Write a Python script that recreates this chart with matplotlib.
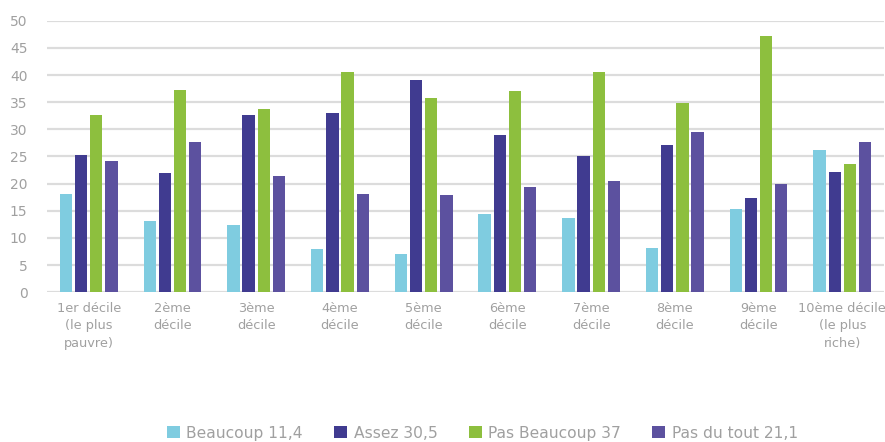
import matplotlib
matplotlib.use('Agg')
from matplotlib import pyplot as plt
import numpy as np

plt.rcParams['font.family'] = ['Liberation Sans Narrow', 'DejaVu Sans']

# Données
deciles = ['1er décile\n(le plus\npauvre)', '2ème\ndécile', '3ème\ndécile', '4ème\ndécile',
           '5ème\ndécile', '6ème\ndécile', '7ème\ndécile', '8ème\ndécile',
           '9ème\ndécile', '10ème décile\n(le plus\nriche)']
beaucoup = [18.0, 13.1, 12.3, 8.0, 7.1, 14.4, 13.7, 8.2, 15.3, 26.2]
assez = [25.2, 21.9, 32.6, 33.1, 39.1, 28.9, 25.0, 27.1, 17.3, 22.2]
pas_beaucoup = [32.7, 37.2, 33.7, 40.6, 35.8, 37.1, 40.6, 34.9, 47.2, 23.7]
pas_du_tout = [24.1, 27.7, 21.4, 18.1, 17.9, 19.3, 20.5, 29.6, 20.0, 27.7]
series = [('Beaucoup 11,4', beaucoup, '#7fcce0'),
          ('Assez 30,5', assez, '#403b90'),
          ('Pas Beaucoup 37', pas_beaucoup, '#8dbf3e'),
          ('Pas du tout 21,1', pas_du_tout, '#5c519f')]

grey = '#a0a0a0'
fig = plt.figure(figsize=(8.85, 4.42), dpi=100)
ax = fig.add_axes([0.053, 0.339, 0.946, 0.614])

x = np.arange(len(deciles))
w, step = 0.147, 0.181
for i, (name, vals, col) in enumerate(series):
    ax.bar(x + (i - 1.5) * step, vals, w, color=col, label=name, zorder=3)

ax.set_xlim(-0.5, 9.5)
ax.set_ylim(0, 50)
ax.set_yticks(range(0, 51, 5))
ax.yaxis.grid(True, color='#dcdcdc', linewidth=1.6, zorder=0)
ax.set_xticks(x)
ax.set_xticklabels(deciles, color=grey, fontsize=9.3, linespacing=1.45)
ax.tick_params(axis='y', colors=grey, labelsize=10, length=0, pad=14)
ax.tick_params(axis='x', length=0, pad=7)
for s in ax.spines.values():
    s.set_visible(False)

leg = fig.legend(loc='center', bbox_to_anchor=(0.545, 0.02), ncol=4, frameon=False,
                 fontsize=11.2, handlelength=0.85, handleheight=0.85, handletextpad=0.4,
                 columnspacing=2.0)
for t in leg.get_texts():
    t.set_color(grey)

fig.savefig('out.png', dpi=100)
